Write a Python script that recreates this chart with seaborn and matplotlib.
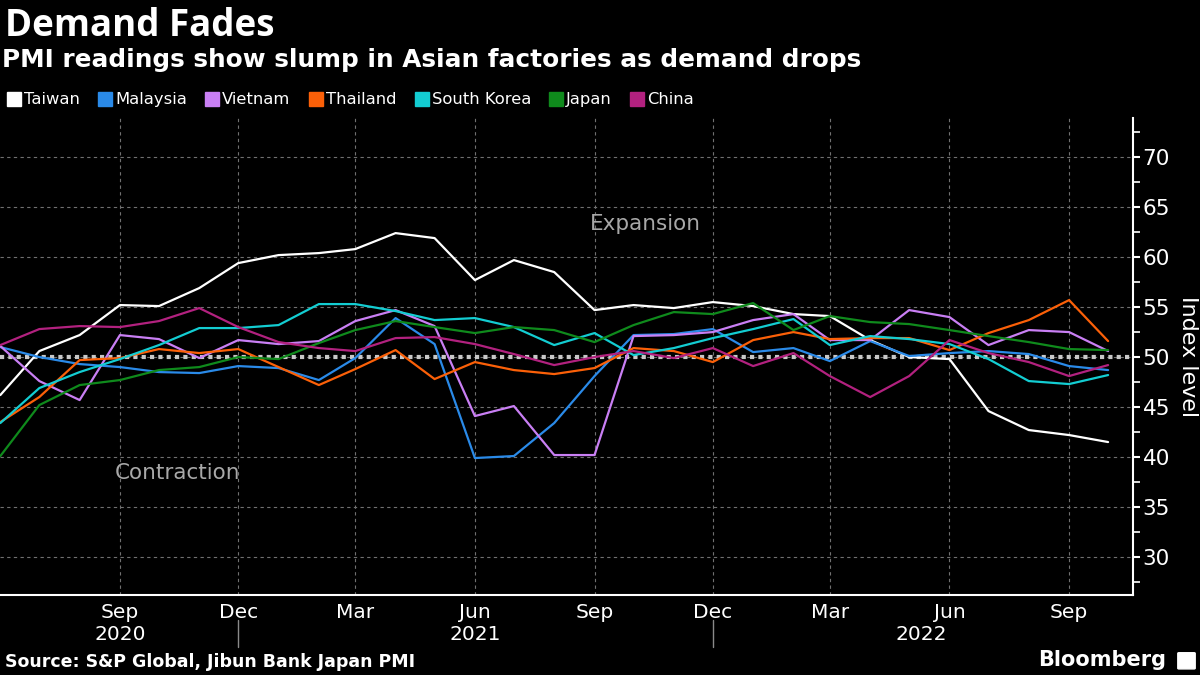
import numpy as np
import pandas as pd
import matplotlib
matplotlib.use("Agg")
import matplotlib.pyplot as plt
import matplotlib.dates as mdates
import matplotlib.transforms as mtransforms
from matplotlib.lines import Line2D
from matplotlib.patches import FancyBboxPatch
import seaborn as sns

# Monthly manufacturing PMI readings, Jun 2020 - Oct 2022
months = pd.date_range("2020-06-01", periods=29, freq="MS")

taiwan = [46.2, 50.6, 52.2, 55.2, 55.1, 56.9, 59.4, 60.2, 60.4, 60.8, 62.4,
          61.9, 57.7, 59.7, 58.5, 54.7, 55.2, 54.9, 55.5, 55.1, 54.3, 54.1,
          51.7, 50.0, 49.8, 44.6, 42.7, 42.2, 41.5]
malaysia = [51.0, 50.0, 49.3, 49.0, 48.5, 48.4, 49.1, 48.9, 47.7, 49.9, 53.9,
            51.3, 39.9, 40.1, 43.4, 48.1, 52.2, 52.3, 52.8, 50.5, 50.9, 49.6,
            51.6, 50.1, 50.4, 50.6, 50.3, 49.1, 48.7]
vietnam = [51.1, 47.6, 45.7, 52.2, 51.8, 49.9, 51.7, 51.3, 51.6, 53.6, 54.7,
           53.1, 44.1, 45.1, 40.2, 40.2, 52.1, 52.2, 52.5, 53.7, 54.3, 51.7,
           51.7, 54.7, 54.0, 51.2, 52.7, 52.5, 50.6]
thailand = [43.5, 46.0, 49.7, 49.9, 50.8, 50.4, 50.8, 49.0, 47.2, 48.8, 50.7,
            47.8, 49.5, 48.7, 48.3, 48.9, 50.9, 50.6, 49.5, 51.7, 52.5, 51.8,
            51.9, 51.9, 50.7, 52.4, 53.7, 55.7, 51.6]
south_korea = [43.4, 46.9, 48.5, 49.8, 51.2, 52.9, 52.9, 53.2, 55.3, 55.3, 54.6,
               53.7, 53.9, 53.0, 51.2, 52.4, 50.2, 50.9, 51.9, 52.8, 53.8, 51.2,
               52.1, 51.8, 51.3, 49.8, 47.6, 47.3, 48.2]
japan = [40.1, 45.2, 47.2, 47.7, 48.7, 49.0, 50.0, 49.8, 51.4, 52.7, 53.6,
         53.0, 52.4, 53.0, 52.7, 51.5, 53.2, 54.5, 54.3, 55.4, 52.7, 54.1,
         53.5, 53.3, 52.7, 52.1, 51.5, 50.8, 50.7]
china = [51.2, 52.8, 53.1, 53.0, 53.6, 54.9, 53.0, 51.5, 50.9, 50.6, 51.9,
         52.0, 51.3, 50.3, 49.2, 50.0, 50.6, 49.9, 50.9, 49.1, 50.4, 48.1,
         46.0, 48.1, 51.7, 50.4, 49.5, 48.1, 49.2]

countries = ["Taiwan", "Malaysia", "Vietnam", "Thailand", "South Korea", "Japan", "China"]
colors = ["#ffffff", "#2a8ae8", "#c97ff4", "#fb6008", "#13cdd2", "#0f8a1c", "#b2217f"]
series = [taiwan, malaysia, vietnam, thailand, south_korea, japan, china]

# quarter ticks shown on the x axis (Jun 2020 is not labelled)
quarter_ticks = pd.date_range("2020-09-01", "2022-09-01", freq="3MS")

df = pd.concat(
    [pd.DataFrame({"month": months, "pmi": vals, "country": name})
     for name, vals in zip(countries, series)],
    ignore_index=True,
)
palette = dict(zip(countries, colors))

sns.set_style("dark", {"axes.facecolor": "black", "figure.facecolor": "black"})
plt.rcParams["font.family"] = ["DejaVu Sans"]
plt.rcParams["text.color"] = "white"

fig = plt.figure(figsize=(12, 6.75), dpi=100, facecolor="black")
ax = fig.add_axes([0.0, 0.1185, 0.944, 0.7065])
ax.set_facecolor("black")

sns.lineplot(data=df, x="month", y="pmi", hue="country", hue_order=countries,
             palette=palette, linewidth=1.6, legend=False, ax=ax)

# 50 = expansion / contraction threshold
ax.axhline(50, color="#c8c8c8", linewidth=3, linestyle=(0, (1, 1)), zorder=1)

ax.set_ylim(26.2, 73.9)
ax.set_xlim(pd.Timestamp("2020-05-31 18:00"), pd.Timestamp("2022-10-20"))

# axes styling
for side in ("left", "top"):
    ax.spines[side].set_visible(False)
for side in ("right", "bottom"):
    ax.spines[side].set_color("white")
    ax.spines[side].set_linewidth(1.5)

ax.yaxis.tick_right()
ax.yaxis.set_label_position("right")
ax.set_yticks(np.arange(30, 71, 5))
ax.set_yticks(np.arange(27.5, 73, 5), minor=True)
ax.tick_params(axis="y", which="major", colors="white", labelsize=15.5,
               length=5, width=1.5, pad=2)
ax.tick_params(axis="y", which="minor", colors="white", length=5, width=1.2)
ax.set_ylabel("Index level", color="white", fontsize=16, rotation=270, labelpad=20)

ax.set_xticks(quarter_ticks)
ax.xaxis.set_major_formatter(mdates.DateFormatter("%b"))
ax.xaxis.set_minor_locator(mdates.MonthLocator())
ax.tick_params(axis="x", which="major", colors="white", labelsize=14.5, length=0, pad=6)
ax.tick_params(axis="x", which="minor", colors="white", length=5, width=1.2)
ax.set_xlabel("")

ax.grid(True, which="major", color="#707070", linestyle=(0, (3, 3)), linewidth=0.8)
ax.set_axisbelow(True)

# year labels and separators under the month ticks
trans = mtransforms.blended_transform_factory(ax.transData, ax.transAxes)
for label, pos in [("2020", "2020-09-01"), ("2021", "2021-06-01"), ("2022", "2022-05-10")]:
    ax.text(mdates.date2num(pd.Timestamp(pos)), -0.082, label, transform=trans,
            ha="center", va="center", color="white", fontsize=14.5)
for sep in ["2020-12-01", "2021-12-01"]:
    xs = mdates.date2num(pd.Timestamp(sep))
    ax.plot([xs, xs], [-0.052, -0.108], transform=trans, color="#8a8a8a",
            linewidth=1, clip_on=False)

ax.text(mdates.date2num(pd.Timestamp("2021-10-10")), 63.3, "Expansion",
        color="#a8a8a8", fontsize=15.5, ha="center", va="center")
ax.text(mdates.date2num(pd.Timestamp("2020-10-15")), 38.4, "Contraction",
        color="#a8a8a8", fontsize=15.5, ha="center", va="center")

# titles
fig.text(0.004, 0.962, "Demand Fades", fontsize=26.5, fontweight="bold",
         family=["Open Sans", "DejaVu Sans"], color="white", va="center", ha="left")
fig.text(0.002, 0.911, "PMI readings show slump in Asian factories as demand drops",
         fontsize=17.8, fontweight="bold", color="white", va="center", ha="left")

# legend with square swatches
handles = [Line2D([], [], marker="s", linestyle="", markersize=9.5,
                  markerfacecolor=c, markeredgecolor=c) for c in colors]
fig.legend(handles, countries, loc="center left", bbox_to_anchor=(0.003, 0.852),
           ncol=7, frameon=False, fontsize=11.8, handlelength=0.7, borderpad=0.1,
           borderaxespad=0.2, handletextpad=0.25, columnspacing=1.2,
           labelcolor="white")

fig.text(0.004, 0.019, "Source: S&P Global, Jibun Bank Japan PMI", fontsize=12.5,
         fontweight="bold", color="white", va="center", ha="left")
fig.text(0.972, 0.022, "Bloomberg", fontsize=15, fontweight="bold",
         color="white", va="center", ha="right")
fig.patches.append(FancyBboxPatch((0.9825, 0.01), 0.0125, 0.022,
                                  boxstyle="round,pad=0.001", transform=fig.transFigure,
                                  facecolor="white", edgecolor="white"))

fig.savefig("out.png", dpi=100, facecolor="black")
